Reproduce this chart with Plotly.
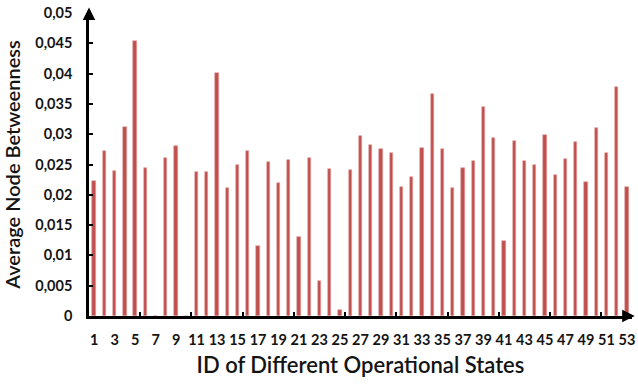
import plotly.graph_objects as go

# Operational state IDs and their average node betweenness
state_ids = list(range(1, 54))
avg_betweenness = [
    0.0222, 0.0273, 0.0239, 0.0312, 0.0454, 0.0244, 0.0, 0.0261, 0.0281, 0.0,
    0.0238, 0.0237, 0.0401, 0.0212, 0.0249, 0.0272, 0.0115, 0.0254, 0.0219, 0.0258,
    0.0130, 0.0260, 0.0058, 0.0242, 0.0010, 0.0241, 0.0297, 0.0282, 0.0275, 0.0269,
    0.0213, 0.0230, 0.0278, 0.0367, 0.0276, 0.0212, 0.0244, 0.0256, 0.0345, 0.0294,
    0.0124, 0.0288, 0.0256, 0.0249, 0.0299, 0.0232, 0.0259, 0.0287, 0.0221, 0.0311,
    0.0269, 0.0378, 0.0213,
]

x_tick_values = list(range(1, 54, 2))
x_tick_labels = [str(v) for v in x_tick_values]
x_minor_marks = [5.5 + 5 * i for i in range(10)]
y_tick_values = [0.005 * i for i in range(11)]
y_tick_labels = ["0", "0,005", "0,01", "0,015", "0,02", "0,025",
                 "0,03", "0,035", "0,04", "0,045", "0,05"]

BAR_COLOR = "#C0504D"
TEXT_COLOR = "#141414"
FONT = "Lato"
X_RANGE = [0.5, 53.5]

fig = go.Figure()
fig.add_trace(go.Bar(
    x=state_ids, y=avg_betweenness, width=0.32,
    marker=dict(color=BAR_COLOR, line=dict(width=0.6, color="#E3A3A1")),
    showlegend=False,
))
# helper trace so the secondary x axis (tick marks every 5 states) is drawn
fig.add_trace(go.Scatter(x=[None], y=[None], xaxis="x2", showlegend=False,
                         hoverinfo="skip"))

fig.update_layout(
    width=638, height=384,
    margin=dict(l=89, r=3, t=13, b=68),
    paper_bgcolor="white", plot_bgcolor="white",
    font=dict(family=FONT, color=TEXT_COLOR),
    xaxis=dict(
        range=X_RANGE, tickvals=x_tick_values, ticktext=x_tick_labels,
        ticks="", showgrid=False, zeroline=False,
        showline=True, linecolor="black", linewidth=2.5,
        tickfont=dict(size=14.5, family=FONT, weight="bold"),
        ticklabelstandoff=9, ticklabeloverflow="allow",
        title=dict(text="ID of Different Operational States",
                   font=dict(size=22, family=FONT, weight=600), standoff=11),
    ),
    xaxis2=dict(
        overlaying="x", anchor="y", side="bottom", range=X_RANGE,
        tickvals=x_minor_marks, ticks="inside", ticklen=4, tickwidth=2,
        tickcolor="black", showticklabels=False, showgrid=False,
        zeroline=False, showline=False,
    ),
    yaxis=dict(
        range=[0, 0.05], tickvals=y_tick_values, ticktext=y_tick_labels,
        ticks="inside", ticklen=4, tickwidth=2, tickcolor="black",
        showgrid=False, zeroline=False,
        showline=True, linecolor="black", linewidth=2.5,
        tickfont=dict(size=14.5, family=FONT, weight="bold"),
        ticklabelstandoff=11,
        title=dict(text="Average Node Betweenness",
                   font=dict(size=20, family=FONT, weight=600), standoff=10),
    ),
    bargap=0,
)

# arrow heads at the ends of both axes
fig.add_annotation(xref="paper", yref="paper", x=0, y=1.018, ax=0, ay=14,
                   text="", showarrow=True, arrowhead=2, arrowsize=1,
                   arrowwidth=2.5, arrowcolor="black")
fig.add_annotation(xref="paper", yref="paper", x=1.005, y=0, ax=-12, ay=0,
                   text="", showarrow=True, arrowhead=2, arrowsize=1,
                   arrowwidth=2.5, arrowcolor="black")

fig.write_html("out.html")
